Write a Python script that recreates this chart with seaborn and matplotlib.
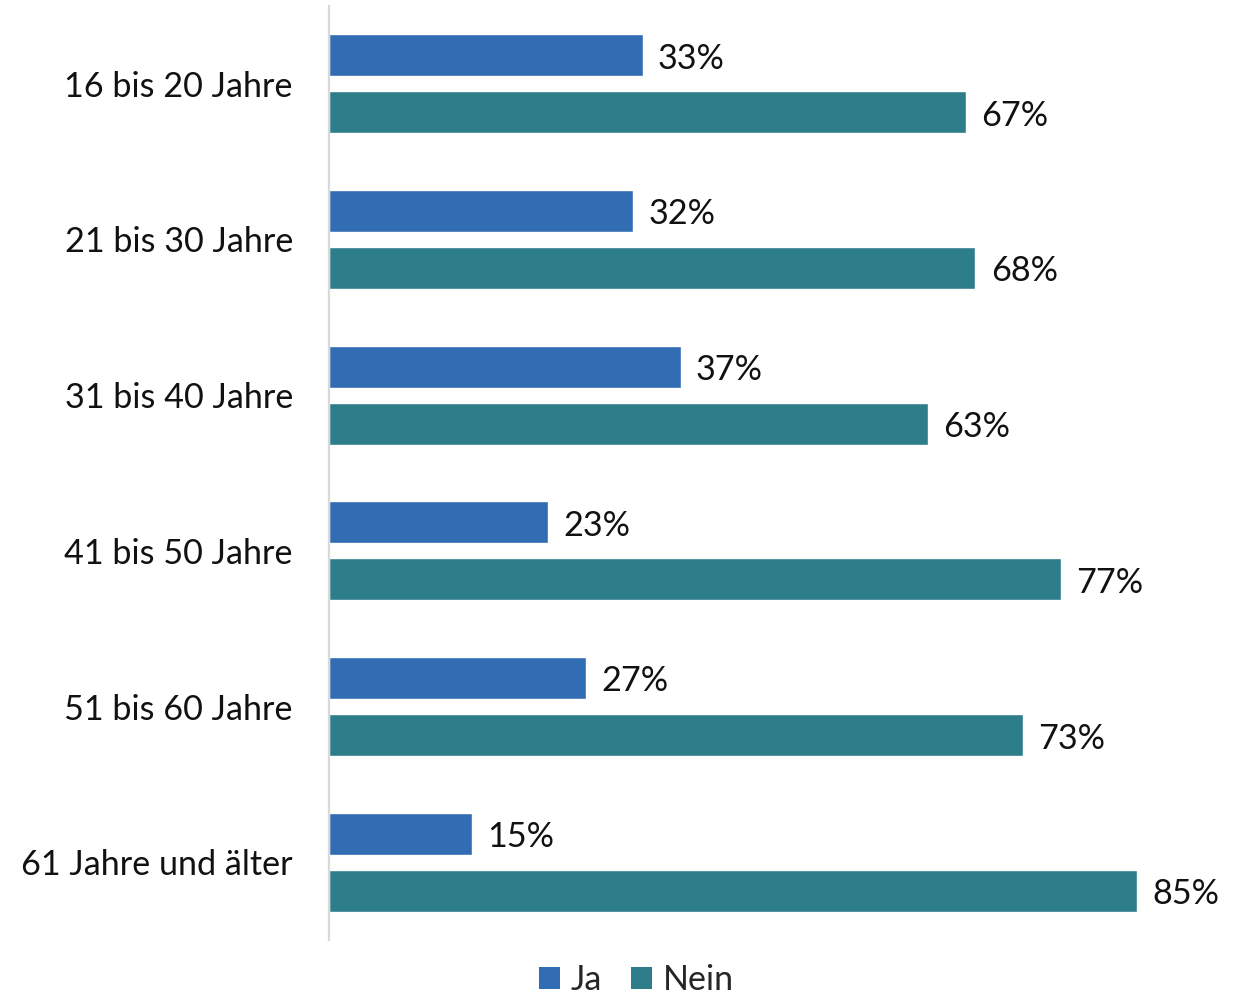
import matplotlib
matplotlib.use("Agg")
import matplotlib.pyplot as plt
from matplotlib.patches import Patch
import seaborn as sns
import pandas as pd

# Umfrageergebnisse nach Altersgruppe
altersgruppen = ["16 bis 20 Jahre", "21 bis 30 Jahre", "31 bis 40 Jahre",
                 "41 bis 50 Jahre", "51 bis 60 Jahre", "61 Jahre und älter"]
ja = [33, 32, 37, 23, 27, 15]
nein = [67, 68, 63, 77, 73, 85]
antworten = ["Ja", "Nein"]
farben = ["#326DB3", "#2E7D8A"]

df = pd.DataFrame({
    "Altersgruppe": altersgruppen * 2,
    "Antwort": ["Ja"] * len(ja) + ["Nein"] * len(nein),
    "Anteil": ja + nein,
})

sns.set_theme(style="white")
plt.rcParams["font.family"] = ["Lato", "DejaVu Sans"]
fs = 24.6

fig = plt.figure(figsize=(12.43, 9.94), dpi=100)
ax = fig.add_axes([0.2647, 0.0543, 0.715, 0.9397])

sns.barplot(data=df, y="Altersgruppe", x="Anteil", hue="Antwort",
            hue_order=antworten, palette=farben, order=altersgruppen,
            orient="h", width=0.733, gap=0.26, ax=ax, legend=False,
            saturation=1)

# Wertebeschriftungen, leicht nach unten versetzt
for cont in ax.containers:
    texts = ax.bar_label(cont, labels=[f"{v:.0f}%" for v in cont.datavalues],
                         padding=11, fontsize=fs, color="#111111")
    for t in texts:
        dx, dy = t.xyann
        t.xyann = (dx, dy - 2.5)

ax.set_xlim(0, 93.5)
ax.set_ylim(5.5, -0.5)
ax.set_xlabel("")
ax.set_ylabel("")
ax.set_xticks([])
ax.tick_params(axis="y", length=0, pad=26, labelsize=fs, labelcolor="#111111")
for s in ["top", "right", "bottom"]:
    ax.spines[s].set_visible(False)
ax.spines["left"].set_color("#D9D9D9")
ax.spines["left"].set_linewidth(1.6)

handles = [Patch(facecolor=c, edgecolor="none") for c in farben]
fig.legend(handles, antworten, loc="center", bbox_to_anchor=(0.512, 0.014),
           ncol=2, frameon=False, fontsize=fs, handlelength=0.62,
           handleheight=0.62, handletextpad=0.3, columnspacing=0.85)

fig.savefig("out.png", dpi=100)
